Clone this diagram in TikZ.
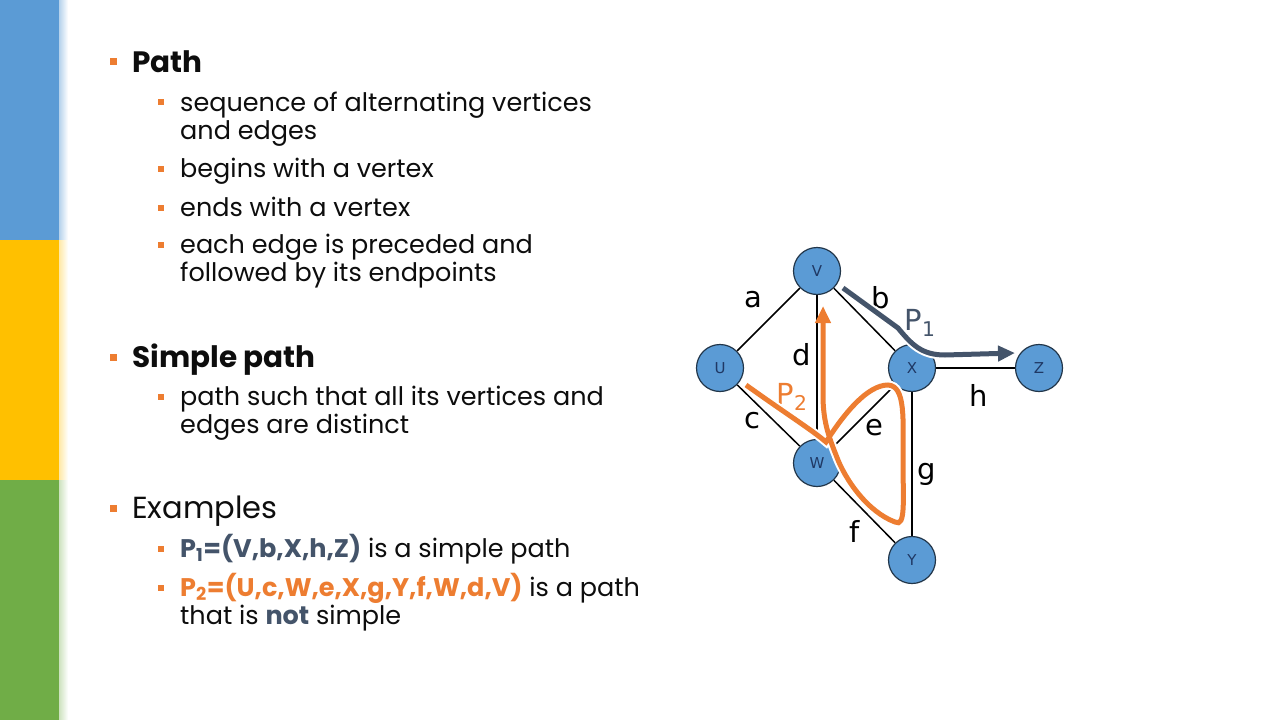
\documentclass[tikz,border=0pt]{standalone}
\usepackage{fontspec}
\setmainfont{Poppins}
\newfontfamily\graphfont{DejaVu Sans}
\usepackage{xcolor}
\usetikzlibrary{positioning}
\usetikzlibrary{arrows.meta}
\pgfdeclarelayer{edgelayer}
\pgfdeclarelayer{nodelayer}
\pgfsetlayers{edgelayer,nodelayer,main}
\definecolor{barblue}{HTML}{5B9BD5}
\definecolor{baryellow}{HTML}{FFC000}
\definecolor{bargreen}{HTML}{70AD47}
\definecolor{accent}{HTML}{ED7D31}
\definecolor{slate}{HTML}{44546A}
\definecolor{vertexline}{HTML}{22364A}
\definecolor{vertextext}{HTML}{1F3864}
\definecolor{ink}{HTML}{0D0D0D}
\tikzset{
    vertex/.style = {circle, draw=vertexline, fill=barblue, line width=1.2pt, minimum size=47pt, inner sep=0pt,
                     text=vertextext, font=\graphfont\fontsize{15}{15}\selectfont},
    edge/.style = {line width=1.5pt, black},
    elabel/.style = {inner sep=0pt, font=\graphfont\fontsize{29}{29}\selectfont},
    halo/.style = {preaction={draw=white, line width=9pt, -}},
    pathone/.style = {line width=5pt, slate, -{Triangle[length=17pt,width=15pt]}},
    pathtwo/.style = {line width=5pt, accent, -{Triangle[length=17pt,width=15pt]}},
    bigdot/.style = {fill=accent, minimum size=7pt, inner sep=0pt},
    smalldot/.style = {fill=accent, minimum size=6pt, inner sep=0pt},
    heading/.style = {anchor=base west, inner sep=0pt, text=ink, font=\fontsize{30.5}{34}\selectfont},
    item/.style = {anchor=base west, inner sep=0pt, text=ink, font=\fontsize{25.5}{28}\selectfont}
}

\begin{document}
\begin{tikzpicture}[x=1pt, y=-1pt]
  \useasboundingbox (0,0) rectangle (1280,720);
  % side bars
  \fill[barblue] (0,0) rectangle (59,240);
  \fill[baryellow] (0,240) rectangle (59,480);
  \fill[bargreen] (0,480) rectangle (59,720);
  \shade[left color=barblue!45, right color=white] (59,0) rectangle (68,240);
  \shade[left color=baryellow!35, right color=white] (59,240) rectangle (68,480);
  \shade[left color=bargreen!35, right color=white] (59,480) rectangle (68,720);

  % text
  \node [bigdot] (b0) at (113.5,61.5) {};
  \node [heading, font=\fontsize{29.5}{34}\bfseries] (path) at (132,72) {Path};
  \node [smalldot] (b1) at (161,102) {};
  \node [item] (t1) at (180,111) {sequence of alternating vertices};
  \node [item] (t1b) at ([yshift=-28pt]t1.base west) {and edges};
  \node [smalldot] (b2) at (161,169) {};
  \node [item] (t2) at (180,177) {begins with a vertex};
  \node [smalldot] (b3) at (161,208) {};
  \node [item] (t3) at (180,216) {ends with a vertex};
  \node [smalldot] (b4) at (161,245) {};
  \node [item] (t4) at (180,253) {each edge is preceded and};
  \node [item] (t4b) at ([yshift=-28pt]t4.base west) {followed by its endpoints};

  \node [bigdot] (b5) at (113.5,357) {};
  \node [heading, font=\fontsize{29.5}{34}\bfseries] (simple) at (132,367) {Simple path};
  \node [smalldot] (b6) at (161,397) {};
  \node [item] (t6) at (180,405) {path such that all its vertices and};
  \node [item] (t6b) at ([yshift=-28pt]t6.base west) {edges are distinct};

  \node [bigdot] (b7) at (113.5,508) {};
  \node [heading] (examples) at (132,518) {Examples};
  \node [smalldot] (b8) at (161,549) {};
  \node [item] (t8) at (180,557) {{\color{slate}\bfseries P\textsubscript{1}=(V,b,X,h,Z)} is a simple path};
  \node [smalldot] (b9) at (161,588) {};
  \node [item] (t9) at (180,596) {{\color{accent}\bfseries P\textsubscript{2}=(U,c,W,e,X,g,Y,f,W,d,V)} is a path};
  \node [item] (t9b) at ([yshift=-28pt]t9.base west) {that is {\color{slate}\bfseries not} simple};

  % graph
  \begin{pgfonlayer}{nodelayer}
    \node [vertex] (V) at (817,271) {V};
    \node [vertex] (U) at (720,368) {U};
    \node [vertex] (X) at (912,368) {X};
    \node [vertex] (Z) at (1039,368) {Z};
    \node [vertex] (W) at (817,463) {W};
    \node [vertex] (Y) at (912,560) {Y};
  \end{pgfonlayer}
  \begin{pgfonlayer}{edgelayer}
    \draw [edge] (V) to (U);
    \draw [edge] (V) to (X);
    \draw [edge] (V) to (W);
    \draw [edge] (U) to (W);
    \draw [edge] (W) to (X);
    \draw [edge] (X) to (Z);
    \draw [edge] (X) to (Y);
    \draw [edge] (W) to (Y);
  \end{pgfonlayer}
  \node [elabel] (la) at (753,300) {a};
  \node [elabel] (lb) at (881,298) {b};
  \node [elabel] (ld) at (802,355) {d};
  \node [elabel] (lc) at (752,421) {c};
  \node [elabel] (le) at (874,428) {e};
  \node [elabel] (lh) at (979,395) {h};
  \node [elabel] (lg) at (927,474) {g};
  \node [elabel] (lf) at (855,531) {f};
  \node [elabel, text=slate] (lp1) at (920,323) {P\textsubscript{1}};
  \node [elabel, text=accent] (lp2) at (792,397) {P\textsubscript{2}};

  % paths
  \coordinate (p1start) at (843,288);
  \coordinate (p1end) at (1015,353);
  \draw [pathone, halo] (p1start) -- (898,328) .. controls (912,345) and (922,355) .. (945,355) -- (p1end);
  \coordinate (p2start) at (746,385);
  \coordinate (p2end) at (823,306);
  \draw [pathtwo, halo] (p2start) .. controls (785,413) and (812,430) .. (826,442)
    .. controls (845,412) and (868,385) .. (888,385)
    .. controls (906,386) and (903,420) .. (903,460)
    .. controls (903,500) and (906,528) .. (895,522)
    .. controls (868,512) and (845,480) .. (836,455)
    .. controls (828,435) and (823,420) .. (823,395) -- (p2end);
\end{tikzpicture}
\end{document}
